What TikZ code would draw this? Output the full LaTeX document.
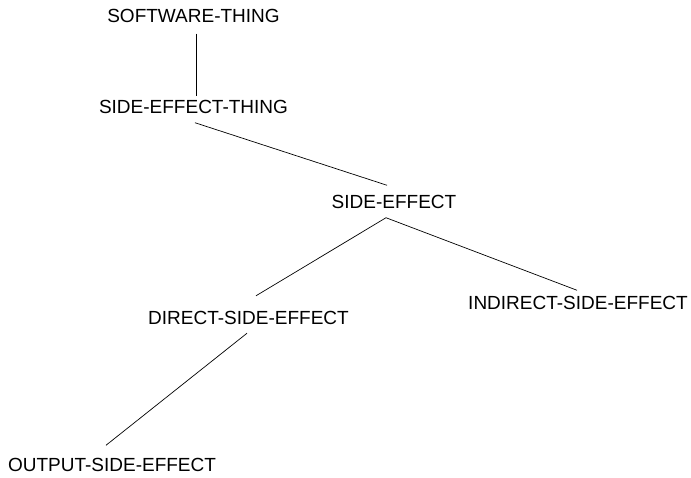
\documentclass[tikz,border=0pt]{standalone}
\usepackage{fontspec}
\setmainfont{Liberation Sans}
\tikzset{
concept/.style={inner sep=0pt,outer sep=0pt,font=\fontsize{19}{21}\selectfont},
link/.style={line width=0.7pt}
}
\begin{document}
\begin{tikzpicture}[x=1pt,y=-1pt]
\useasboundingbox (0,0) rectangle (691,477);
\node[concept] (software) at (193.5,15.5) {SOFTWARE-THING};
\node[concept] (sething) at (193.5,107) {SIDE-EFFECT-THING};
\node[concept] (sideeffect) at (394,202) {SIDE-EFFECT};
\node[concept] (direct) at (248.5,317.5) {DIRECT-SIDE-EFFECT};
\node[concept] (indirect) at (578,303) {INDIRECT-SIDE-EFFECT};
\node[concept] (output) at (112,465) {OUTPUT-SIDE-EFFECT};
\draw[link] ([shift={(2.5,11.3)}]software.south) -- ([shift={(2.5,-4)}]sething.north);
\draw[link] ([shift={(1.5,9)}]sething.south) -- ([shift={(-7,-10)}]sideeffect.north);
\draw[link] ([shift={(-8,9)}]sideeffect.south) -- ([shift={(7.5,-15)}]direct.north);
\draw[link] ([shift={(-8,9)}]sideeffect.south) -- ([shift={(-1,-6)}]indirect.north);
\draw[link] ([shift={(-1.5,9)}]direct.south) -- ([shift={(-6,-13)}]output.north);
\end{tikzpicture}
\end{document}
